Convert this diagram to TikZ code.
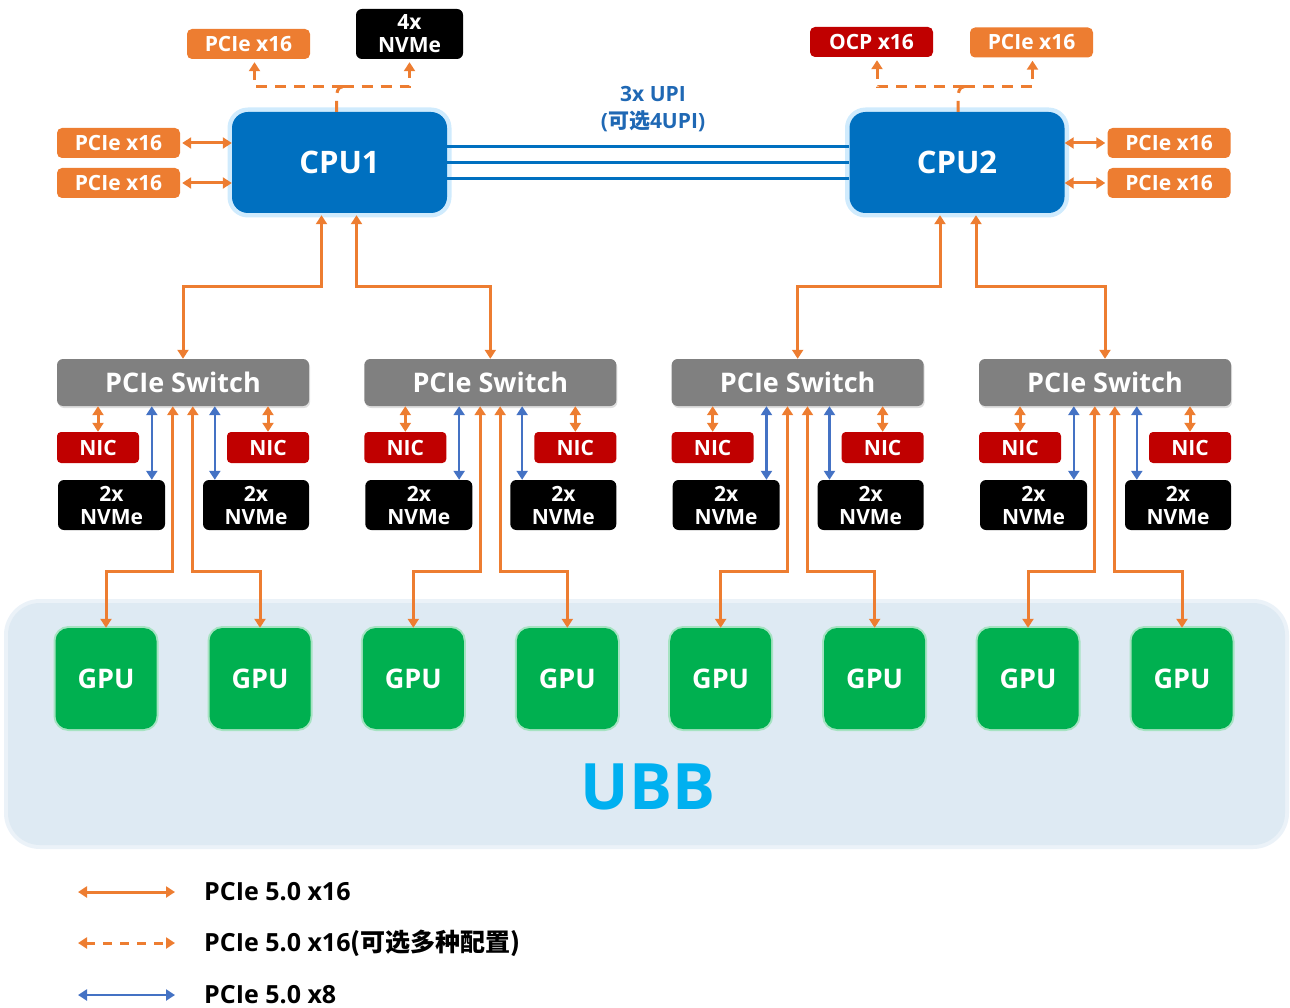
\documentclass[tikz,border=0pt]{standalone}
\usepackage{fontspec}
\setmainfont{Open Sans}
\newfontfamily\cjk{Noto Sans CJK SC}
\usetikzlibrary{arrows.meta,calc,shadows}
\definecolor{orng}{RGB}{237,125,49}
\definecolor{cpublue}{RGB}{0,112,192}
\definecolor{glowblue}{RGB}{150,210,250}
\definecolor{redc}{RGB}{192,0,0}
\definecolor{swgray}{RGB}{128,128,128}
\definecolor{gpugreen}{RGB}{0,176,80}
\definecolor{arrblue}{RGB}{68,114,196}
\definecolor{ubbbg}{RGB}{222,234,243}
\definecolor{ubbtext}{RGB}{0,176,240}
\definecolor{upitext}{RGB}{31,104,180}
\begin{document}
\begin{tikzpicture}[x=1pt,y=-1pt,
  lbl/.style={text=white, font=\bfseries\fontsize{21}{23}\selectfont, inner sep=0pt, align=center},
  obox/.style={lbl, fill=orng, rounded corners=5pt, minimum width=123pt, minimum height=30pt},
  rbox/.style={lbl, fill=redc, rounded corners=5pt, minimum width=123pt, minimum height=30pt},
  kbox/.style={lbl, fill=black, rounded corners=6pt, minimum width=107pt, minimum height=50pt},
  nicbox/.style={lbl, fill=redc, rounded corners=4pt, minimum width=82pt, minimum height=31pt},
  swbox/.style={lbl, fill=swgray, rounded corners=6pt, minimum width=252pt, minimum height=47pt,
    font=\bfseries\fontsize{27}{30}\selectfont, drop shadow={shadow xshift=1pt, shadow yshift=-2pt, opacity=0.25}},
  cpubox/.style={lbl, fill=cpublue, rounded corners=16pt, minimum width=215pt, minimum height=101pt,
    font=\bfseries\fontsize{31}{34}\selectfont,
    preaction={draw=glowblue, line width=9pt, opacity=0.45, rounded corners=16pt}},
  gpubox/.style={lbl, fill=gpugreen, rounded corners=13pt, minimum width=101pt, minimum height=101pt,
    font=\bfseries\fontsize{27}{30}\selectfont,
    preaction={draw=gpugreen!35, line width=4pt, rounded corners=13pt}},
  tip/.style={-{Triangle[length=9pt,width=11pt]}},
  btip/.style={{Triangle[length=9pt,width=11pt]}-{Triangle[length=9pt,width=11pt]}},
  oarr/.style={draw=orng, line width=3pt, btip},
  barr/.style={draw=arrblue, line width=2.6pt, btip},
  odash/.style={draw=orng, line width=3pt, dash pattern=on 11pt off 8pt},
  upi/.style={draw=cpublue, line width=3pt},
  legtxt/.style={anchor=west, inner sep=0pt, font=\bfseries\fontsize{25}{28}\selectfont, text=black}
]
\useasboundingbox (0,0) rectangle (1290,1008);

% UBB background
\node[fill=ubbbg, rounded corners=32pt, minimum width=1277pt, minimum height=242pt, inner sep=0pt,
  preaction={draw=ubbbg!60, line width=8pt, rounded corners=32pt}] (ubb) at (646.5,724) {};
\node[text=ubbtext, inner sep=0pt, font=\bfseries\fontsize{64}{68}\selectfont] (ubbl) at (648,787) {UBB};

% CPUs
\node[cpubox] (cpu1) at (339.5,162.5) {CPU1};
\node[cpubox] (cpu2) at (957,162.5) {CPU2};

% UPI
\foreach \d in {-16,0,16}{
  \draw[upi] ($(cpu1.east)+(0,\d)$) -- ($(cpu2.west)+(0,\d)$);
}
\node[text=upitext, inner sep=0pt, align=center, font=\bfseries\fontsize{21}{27}\selectfont] (upit) at (653,109)
  {3x UPI\\({\cjk 可选}4UPI)};

% CPU1 peripherals
\node[obox] (t1) at (248.5,44) {PCIe x16};
\node[kbox] (t2) at (409.5,34) {4x\\NVMe};
\node[obox] (l1) at (118.5,143) {PCIe x16};
\node[obox] (l2) at (118.5,183) {PCIe x16};
\draw[oarr, shorten <=2pt] (l1.east) -- (l1.east -| cpu1.west);
\draw[oarr, shorten <=2pt] (l2.east) -- (l2.east -| cpu1.west);
\draw[odash] ($(cpu1.north)+(-3,0)$) -- ++(0,-14) to[out=90,in=180] ++(6,-11) coordinate (j1);
\draw[odash, tip] (j1) -| ($(t2.south)+(0,3)$);
\draw[odash, tip] (j1) -| ($(t1.south)+(6,3)$);

% CPU2 peripherals
\node[rbox] (t3) at (871.5,42) {OCP x16};
\node[obox] (t4) at (1031.5,42.5) {PCIe x16};
\node[obox] (r1) at (1169,143) {PCIe x16};
\node[obox] (r2) at (1169,183) {PCIe x16};
\draw[oarr, shorten <=2pt] (r1.west) -- (r1.west -| cpu2.east);
\draw[oarr, shorten <=2pt] (r2.west) -- (r2.west -| cpu2.east);
\draw[odash] ($(cpu2.north)+(1,0)$) -- ++(0,-14) to[out=90,in=180] ++(6,-11) coordinate (j2);
\draw[odash, tip] (j2) -| ($(t4.south)+(1,3)$);
\draw[odash, tip] (j2) -| ($(t3.south)+(5.5,3)$);

% switch groups
\foreach \i in {1,2,3,4}{
  \pgfmathsetmacro\L{57+307.33*(\i-1)}
  \node[swbox] (sw\i) at (\L+126,382.5) {PCIe Switch};
  \node[nicbox] (nicl\i) at (\L+41,447.5) {NIC};
  \node[nicbox] (nicr\i) at (\L+211,447.5) {NIC};
  \node[kbox] (nvl\i) at (\L+54.5,505) {2x\\NVMe};
  \node[kbox, minimum width=106pt] (nvr\i) at (\L+199,505) {2x\\NVMe};
  \node[gpubox] (gl\i) at (\L+49,678.5) {GPU};
  \node[gpubox] (gr\i) at (\L+203,678.5) {GPU};
  \draw[oarr] (sw\i.south -| nicl\i.north) -- (nicl\i.north);
  \draw[oarr] (sw\i.south -| nicr\i.north) -- (nicr\i.north);
  \draw[barr] ($(sw\i.south west)+(95,0)$) -- ($(nvl\i.north west)+(94,0)$);
  \draw[barr] ($(sw\i.south west)+(158,0)$) -- ($(nvr\i.north west)+(12,0)$);
  \draw[oarr] ($(sw\i.south west)+(116,0)$) |- ($(gl\i.north)+(0,-56)$) -- (gl\i.north);
  \draw[oarr] ($(sw\i.south west)+(136,0)$) |- ($(gr\i.north)+(0,-56)$) -- (gr\i.north);
}

% CPU to switch
\draw[oarr, shorten <=2pt] ($(cpu1.south)+(-18,0)$) |- ($(sw1.north)+(0,-72)$) -- (sw1.north);
\draw[oarr, shorten <=2pt] ($(cpu1.south)+(17,0)$) |- ($(sw2.north)+(0,-72)$) -- (sw2.north);
\draw[oarr, shorten <=2pt] ($(cpu2.south)+(-17,0)$) |- ($(sw3.north)+(0,-72)$) -- (sw3.north);
\draw[oarr, shorten <=2pt] ($(cpu2.south)+(19,0)$) |- ($(sw4.north)+(0,-72)$) -- (sw4.north);

% legend
\coordinate (lg1a) at (78,892); \coordinate (lg1b) at (175,892);
\coordinate (lg2a) at (78,943); \coordinate (lg2b) at (175,943);
\coordinate (lg3a) at (78,995); \coordinate (lg3b) at (175,995);
\draw[oarr] (lg1a) -- (lg1b);
\draw[odash, btip, dash pattern=on 9pt off 8pt] (lg2a) -- (lg2b);
\draw[barr] (lg3a) -- (lg3b);
\node[legtxt] (lt1) at (204,892) {PCIe 5.0 x16};
\node[legtxt] (lt2) at (204,943) {PCIe 5.0 x16{\cjk (可选多种配置)}};
\node[legtxt] (lt3) at (204,995) {PCIe 5.0 x8};
\end{tikzpicture}
\end{document}
